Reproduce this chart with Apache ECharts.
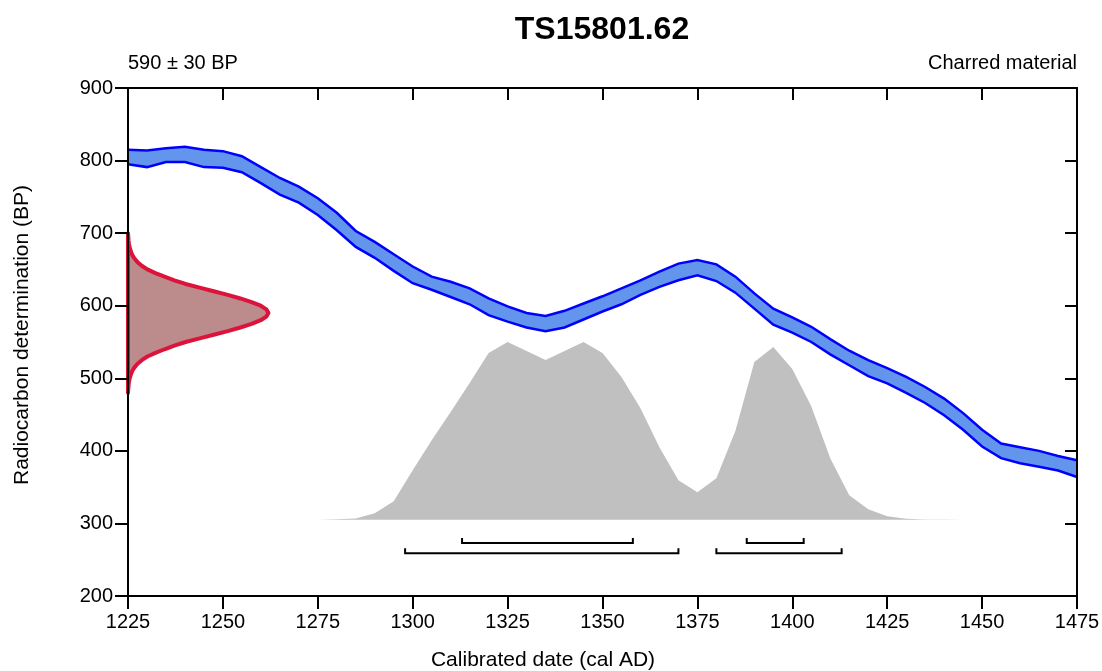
<!DOCTYPE html>
<html>
<head>
<meta charset="utf-8">
<script src="https://cdn.jsdelivr.net/npm/echarts@6/dist/echarts.min.js"></script>
<style>
  html, body { margin: 0; padding: 0; background: #fff; }
  #chart { width: 1102px; height: 671px; }
</style>
</head>
<body>
<div id="chart"></div>
<script>
// calibration curve band, 5-year steps (BP)
const calYears = [1225, 1230, 1235, 1240, 1245, 1250, 1255, 1260, 1265, 1270,
  1275, 1280, 1285, 1290, 1295, 1300, 1305, 1310, 1315, 1320,
  1325, 1330, 1335, 1340, 1345, 1350, 1355, 1360, 1365, 1370,
  1375, 1380, 1385, 1390, 1395, 1400, 1405, 1410, 1415, 1420,
  1425, 1430, 1435, 1440, 1445, 1450, 1455, 1460, 1465, 1470, 1475]
const calUpper = [815, 814, 817, 819, 815, 813, 806, 791, 776, 764,
  748, 728, 703, 688, 671, 654, 640, 633, 624, 610,
  599, 590, 586, 593, 603, 613, 624, 635, 647, 658,
  663, 657, 640, 617, 596, 584, 571, 554, 538, 525,
  514, 502, 488, 472, 452, 429, 410, 405, 400, 393, 387]
const calLower = [795, 791, 798, 798, 791, 790, 784, 769, 753, 742,
  725, 704, 681, 666, 648, 631, 622, 612, 602, 587,
  578, 570, 565, 570, 581, 592, 602, 615, 626, 635,
  642, 634, 618, 596, 574, 563, 550, 533, 518, 503,
  493, 480, 466, 449, 429, 406, 390, 383, 378, 373, 364]

// measurement 590 ± 30 BP, relative probability along the BP axis
const bpLevels = [700, 695, 690, 685, 680, 675, 670, 665, 660, 655, 650, 645, 640,
  635, 630, 625, 620, 615, 610, 605, 600, 595, 590,
  585, 580, 575, 570, 565, 560, 555, 550, 545, 540,
  535, 530, 525, 520, 515, 510, 505, 500, 495, 490, 485, 480]
const bpProb = [0, 0.002, 0.004, 0.007, 0.012, 0.02, 0.03, 0.046, 0.068, 0.098, 0.138, 0.195, 0.26,
  0.33, 0.41, 0.51, 0.61, 0.71, 0.8, 0.88, 0.945, 0.985, 1,
  0.985, 0.945, 0.88, 0.8, 0.71, 0.61, 0.51, 0.41, 0.33, 0.26,
  0.195, 0.138, 0.098, 0.068, 0.046, 0.03, 0.02, 0.012, 0.007, 0.004, 0.002, 0]

// calibrated date distribution (relative)
const probYears = [1275, 1280, 1285, 1290, 1295, 1300, 1305, 1310, 1315, 1320,
  1325, 1330, 1335, 1340, 1345, 1350, 1355, 1360, 1365, 1370,
  1375, 1380, 1385, 1390, 1395, 1400, 1405, 1410, 1415, 1420,
  1425, 1430, 1435, 1440, 1445]
const probValues = [0, 0.003, 0.008, 0.037, 0.104, 0.279, 0.448, 0.606, 0.769, 0.938,
  1, 0.949, 0.899, 0.949, 1, 0.938, 0.803, 0.628, 0.408, 0.223,
  0.155, 0.234, 0.499, 0.887, 0.972, 0.848, 0.639, 0.346, 0.138, 0.059,
  0.02, 0.006, 0.002, 0.001, 0]

// highest probability ranges
const ranges68 = [[1313, 1358], [1388, 1403]]
const ranges95 = [[1298, 1370], [1380, 1413]]

const xTicks = { min: 1225, max: 1475, interval: 25 }
const yTicks = { min: 200, max: 900, interval: 100 }

const FONT = '"Liberation Sans", Arial, sans-serif'
const chart = echarts.init(document.getElementById('chart'))

const probBase = 305 // baseline of grey distribution (BP)
const probHeight = 245 // height of grey peak (BP)
const bpWidth = 37 // width of red curve peak (years)

const axisLine = { show: true, lineStyle: { color: '#000', width: 2 } }
const tickOut = { show: true, length: 13, lineStyle: { color: '#000', width: 2 } }
const tickIn = { show: true, inside: true, length: 12, lineStyle: { color: '#000', width: 2 } }

const option = {
  animation: false,
  backgroundColor: '#fff',
  grid: { left: 128, right: 25, top: 88, bottom: 75, outerBoundsMode: 'none' },
  xAxis: [
    {
      type: 'value', position: 'bottom', ...xTicks, z: 10,
      axisLine, axisTick: tickOut, splitLine: { show: false },
      axisLabel: { fontSize: 20, color: '#000', fontFamily: FONT, margin: 16, formatter: (v) => String(v) }
    },
    {
      type: 'value', position: 'top', ...xTicks, z: 10,
      axisLine, axisTick: tickIn, splitLine: { show: false }, axisLabel: { show: false }
    }
  ],
  yAxis: [
    {
      type: 'value', position: 'left', ...yTicks, z: 10,
      axisLine, axisTick: tickOut, splitLine: { show: false },
      axisLabel: { fontSize: 20, color: '#000', fontFamily: FONT, margin: 15, formatter: (v) => String(v) }
    },
    {
      type: 'value', position: 'right', ...yTicks, z: 10,
      axisLine, axisTick: tickIn, splitLine: { show: false }, axisLabel: { show: false }
    }
  ],
  graphic: [
    { type: 'text', x: 602, y: 30, style: { text: 'TS15801.62', font: 'bold 32px ' + FONT, fill: '#000', align: 'center', verticalAlign: 'middle' } },
    { type: 'text', x: 128, y: 63, style: { text: '590 ± 30 BP', font: '20px ' + FONT, fill: '#000', align: 'left', verticalAlign: 'middle' } },
    { type: 'text', x: 1077, y: 63, style: { text: 'Charred material', font: '20px ' + FONT, fill: '#000', align: 'right', verticalAlign: 'middle' } },
    { type: 'text', x: 543, y: 660, style: { text: 'Calibrated date (cal AD)', font: '21px ' + FONT, fill: '#000', align: 'center', verticalAlign: 'middle' } },
    { type: 'text', x: 22, y: 335, rotation: Math.PI / 2, style: { text: 'Radiocarbon determination (BP)', font: '21px ' + FONT, fill: '#000', align: 'center', verticalAlign: 'middle' } }
  ],
  series: [
    {
      // calibrated distribution
      type: 'custom',
      silent: true,
      data: [[1300, 400]],
      renderItem: (params, api) => {
        const pts = probYears.map((yr, i) => api.coord([yr, probBase + probValues[i] * probHeight]))
        pts.push(api.coord([probYears[probYears.length - 1], probBase]))
        pts.push(api.coord([probYears[0], probBase]))
        return { type: 'polygon', shape: { points: pts }, style: { fill: '#c0c0c0' } }
      }
    },
    {
      // calibration curve band
      type: 'custom',
      silent: true,
      data: [[1300, 600]],
      renderItem: (params, api) => {
        const top = calYears.map((yr, i) => api.coord([yr, calUpper[i]]))
        const bot = calYears.map((yr, i) => api.coord([yr, calLower[i]]))
        return {
          type: 'group',
          children: [
            { type: 'polygon', shape: { points: top.concat(bot.slice().reverse()) }, style: { fill: '#6495ed' } },
            { type: 'polyline', shape: { points: top }, style: { stroke: '#0000ff', lineWidth: 2.5, fill: null } },
            { type: 'polyline', shape: { points: bot }, style: { stroke: '#0000ff', lineWidth: 2.5, fill: null } }
          ]
        }
      }
    },
    {
      // radiocarbon measurement
      type: 'custom',
      silent: true,
      data: [[1225, 590]],
      renderItem: (params, api) => {
        const pts = bpLevels.map((bp, i) => api.coord([xTicks.min + bpProb[i] * bpWidth, bp]))
        return {
          type: 'polygon',
          shape: { points: pts },
          style: { fill: '#bc8c8c', stroke: '#dc143c', lineWidth: 4, lineJoin: 'round' }
        }
      }
    },
    {
      // 68.2% and 95.4% ranges
      type: 'custom',
      silent: true,
      encode: { x: [0, 1], y: 2 },
      data: ranges68.map((r) => [r[0], r[1], 273]).concat(ranges95.map((r) => [r[0], r[1], 259])),
      renderItem: (params, api) => {
        const a = api.coord([api.value(0), api.value(2)])
        const b = api.coord([api.value(1), api.value(2)])
        return {
          type: 'polyline',
          shape: { points: [[a[0], a[1] - 5], a, b, [b[0], b[1] - 5]] },
          style: { stroke: '#000', lineWidth: 2, fill: null }
        }
      }
    }
  ]
}

chart.setOption(option)
</script>
</body>
</html>
